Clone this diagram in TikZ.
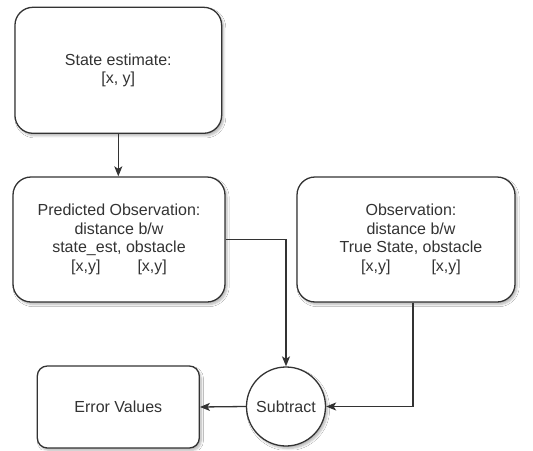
\documentclass[tikz,border=0pt]{standalone}
\usepackage{fontspec}
\setmainfont{Liberation Sans}
\usetikzlibrary{arrows.meta,shadows.blur}
\definecolor{ink}{HTML}{333333}
\tikzset{
  base/.style={draw=ink, line width=1.3pt, fill=white, text=ink, align=center,
    font=\fontsize{16}{18.5}\selectfont, inner sep=0pt,
    blur shadow={shadow xshift=2pt, shadow yshift=-2.5pt, shadow blur steps=6, shadow opacity=28}},
  bigbox/.style={base, rectangle, rounded corners=18pt},
  smallbox/.style={base, rectangle, rounded corners=10pt},
  roundop/.style={base, circle, minimum size=79pt},
  link/.style={draw=ink, line width=1.3pt, -{Stealth[length=10pt,width=8pt,inset=2.5pt]}}
}
\begin{document}
\begin{tikzpicture}[x=1pt,y=-1pt]
  \useasboundingbox (0,0) rectangle (533,450);
  \fill[white] (0,0) rectangle (533,450);

  \node[bigbox, minimum width=206.7pt, minimum height=126pt] (state) at (118.3,70.3)
    {State estimate:\\{}[x, y]};
  \node[bigbox, minimum width=212pt, minimum height=125pt] (pred) at (119,239.5)
    {Predicted Observation:\\distance b/w\\state\_est, obstacle\\{}[x,y]\hspace{37pt}[x,y]};
  \node[bigbox, minimum width=218pt, minimum height=125pt] (obs) at (406,239.5)
    {\hspace{10pt}Observation:\\\hspace{10pt}distance b/w\\\hspace{10pt}True State, obstacle\\\hspace{10pt}[x,y]\hspace{41pt}[x,y]};
  \node[smallbox, minimum width=162pt, minimum height=82pt] (err) at (118.3,407)
    {Error Values};
  \node[roundop] (sub) at (286,406.5) {Subtract};

  \draw[link] (state.south) -- (state.south |- pred.north);
  \draw[link] (pred.east) -| (sub.north);
  \draw[link] ([xshift=7pt]obs.south) |- (sub.east);
  \draw[link] (sub.west) -- (err.east);
\end{tikzpicture}
\end{document}
